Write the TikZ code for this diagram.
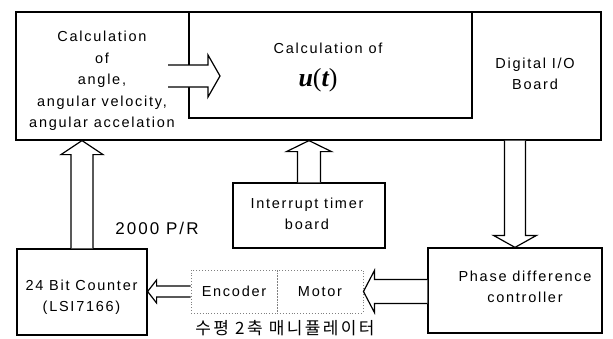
\documentclass[tikz,border=0pt]{standalone}
\usepackage{fontspec}
\setmainfont{Liberation Sans}[LetterSpace=12]
\newfontfamily\krfont{Noto Sans CJK KR}[LetterSpace=14]
\newfontfamily\utfont{Liberation Serif}
\usetikzlibrary{
    calc
}
\tikzset{
  every path/.style={
    line width=1.2pt
  },
  every node/.style={
    font=\fontsize{14.5}{21.5}\selectfont,
    align=center,
    inner sep=0pt
  },
  box/.style={draw=black},
  manbox/.style={draw=gray, dotted, line width=0.9pt},
  hollow/.style={fill=white, draw=black, line join=miter}
}
% hollow block arrow: from, tip, half shaft, half head, head length
\newcommand\hollowarrow[5]{%
  \coordinate (hb) at ($(#2)!#5!(#1)$);
  \filldraw[hollow] ($(#1)!#3!90:(#2)$) -- ($(hb)!#3!90:(#2)$)
    -- ($(hb)!#4!90:(#2)$) -- (#2) -- ($(hb)!#4!-90:(#2)$)
    -- ($(hb)!#3!-90:(#2)$) -- ($(#1)!#3!-90:(#2)$);
}

\begin{document}
\begin{tikzpicture}[x=1pt,y=-1pt]
    \useasboundingbox (0,0) rectangle (613,338);

    % PC side
    \node[box, minimum width=585, minimum height=128] (pc) at (308.5,76) {};
    \node[box, minimum width=283, minimum height=106] (uof) at (330.5,65) {};
    \node (ang) at (102,81) {Calculation\\of\\angle,\\angular velocity,\\angular accelation};
    \node (uoft) at (328,48) {Calculation of};
    \node (ut) at (318,80) {\utfont\fontsize{26}{28}\selectfont\bfseries\itshape u\mdseries\upshape(\bfseries\itshape t\mdseries\upshape)};
    \node (dio) at (535,74) {Digital I/O\\Board};

    % boards
    \node[box, minimum width=130, minimum height=86] (cnt) at (82,292) {};
    \node (cntt) at (81.5,297) {24 Bit Counter\\(LSI7166)};
    \node[box, minimum width=152, minimum height=65] (tmr) at (309,215.5) {};
    \node (tmrt) at (307,214) {Interrupt timer\\board};
    \node[box, minimum width=174, minimum height=85] (phs) at (515,290.5) {};
    \node (phst) at (525,287) {Phase difference\\controller};
    \node (ppr) at (157,228) {\fontsize{17}{20}\selectfont 2000 P/R};

    % manipulator
    \node[manbox, minimum width=86, minimum height=43] (enc) at (234,291.5) {Encoder};
    \node[manbox, minimum width=86, minimum height=43] (mot) at (320,291.5) {Motor};
    \node (cap) at (285,328) {\krfont\fontsize{17}{20}\selectfont 수평 2축 매니퓰레이터};

    % arrows
    \coordinate (src) at (168,76);
    \coordinate (dst) at (220,76);
    \hollowarrow{src}{dst}{11pt}{21pt}{12pt}
    \hollowarrow{cnt.north}{cnt.north |- pc.south}{11pt}{21pt}{14pt}
    \hollowarrow{tmr.north}{tmr.north |- pc.south}{11.5pt}{22.5pt}{11pt}
    \hollowarrow{phs.north |- pc.south}{phs.north}{10.5pt}{21.5pt}{12pt}
    \hollowarrow{phs.west |- mot.east}{mot.east}{12pt}{21pt}{11pt}
    \hollowarrow{enc.west}{cnt.east |- enc.west}{5.5pt}{11.5pt}{9pt}
\end{tikzpicture}
\end{document}
